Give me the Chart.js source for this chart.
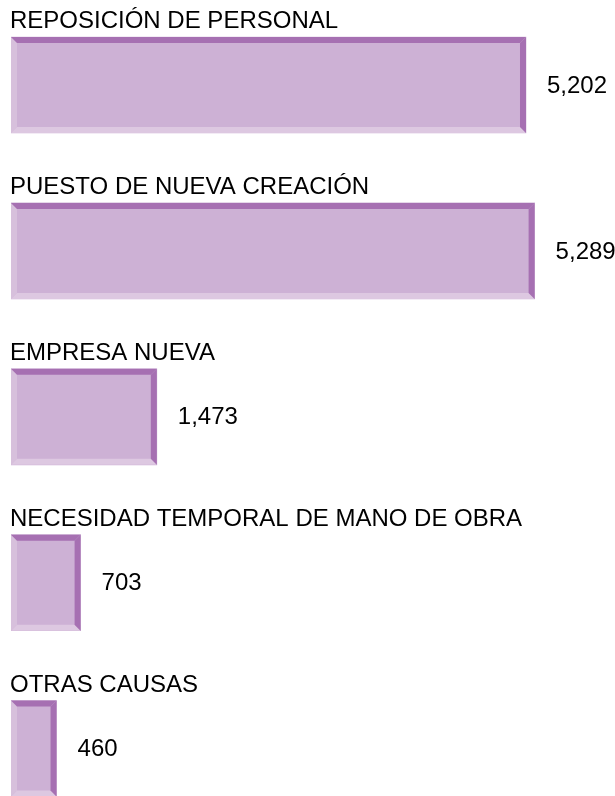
<!DOCTYPE html>
<html>
<head>
<meta charset="utf-8">
<script src="https://cdn.jsdelivr.net/npm/chart.js@4"></script>
<style>
  body { margin: 0; background: #fff; overflow: hidden; }
  #wrap { width: 615px; height: 796px; position: relative; }
</style>
</head>
<body>
<div id="wrap"><canvas id="chart"></canvas></div>
<script>
"use strict";

let categories = [
  'REPOSICIÓN DE PERSONAL',
  'PUESTO DE NUEVA CREACIÓN',
  'EMPRESA NUEVA',
  'NECESIDAD TEMPORAL DE MANO DE OBRA',
  'OTRAS CAUSAS'
];
let values = [5202, 5289, 1473, 703, 460];

let fillColor = '#cdb1d5';
let darkEdge = '#a670b2';
let leftEdge = '#d7c0dc';
let bottomEdge = '#ddc8e1';
let font = '24px "Liberation Sans", Arial, sans-serif';

// bevel edges + text for each bar
let bevelPlugin = {
  id: 'bevel',
  afterDatasetsDraw(chart) {
    let ctx = chart.ctx;
    let meta = chart.getDatasetMeta(0);
    meta.data.forEach(function (bar, i) {
      let left = Math.min(bar.base, bar.x);
      let right = Math.max(bar.base, bar.x);
      let top = bar.y - bar.height / 2;
      let bottom = bar.y + bar.height / 2;
      let b = 6;

      function poly(points, color) {
        ctx.beginPath();
        ctx.moveTo(points[0][0], points[0][1]);
        for (let k = 1; k < points.length; k++) {
          ctx.lineTo(points[k][0], points[k][1]);
        }
        ctx.closePath();
        ctx.fillStyle = color;
        ctx.fill();
      }

      ctx.save();
      poly([[left, top], [left + b, top + b], [left + b, bottom - b], [left, bottom]], leftEdge);
      poly([[left, bottom], [left + b, bottom - b], [right - b, bottom - b], [right, bottom]], bottomEdge);
      poly([[left, top], [right, top], [right - b, top + b], [left + b, top + b]], darkEdge);
      poly([[right, top], [right, bottom], [right - b, bottom - b], [right - b, top + b]], darkEdge);

      ctx.fillStyle = '#000';
      ctx.font = font;
      ctx.textAlign = 'left';
      ctx.textBaseline = 'alphabetic';
      ctx.fillText(categories[i], 10, top - 9);

      ctx.textBaseline = 'middle';
      ctx.fillText(values[i].toLocaleString('en-US'), right + 21, bar.y + 1);
      ctx.restore();
    });
  }
};

let points = values.map(function (v, i) {
  return { x: v, y: i };
});

let config = {
  type: 'bar',
  data: {
    labels: categories,
    datasets: [
      {
        data: points,
        backgroundColor: fillColor,
        borderWidth: 0,
        barThickness: 96
      }
    ]
  },
  options: {
    indexAxis: 'y',
    responsive: true,
    maintainAspectRatio: false,
    animation: false,
    layout: { padding: { left: 11, right: 10, top: 0, bottom: 0 } },
    plugins: {
      legend: { display: false },
      tooltip: { enabled: false }
    },
    scales: {
      x: { type: 'linear', min: 0, max: 6000, display: false },
      y: { type: 'linear', min: -0.5124, max: 4.2857, reverse: true, offset: false, display: false }
    }
  },
  plugins: [bevelPlugin]
};

let myChart = new Chart(document.getElementById('chart'), config);
</script>
</body>
</html>
